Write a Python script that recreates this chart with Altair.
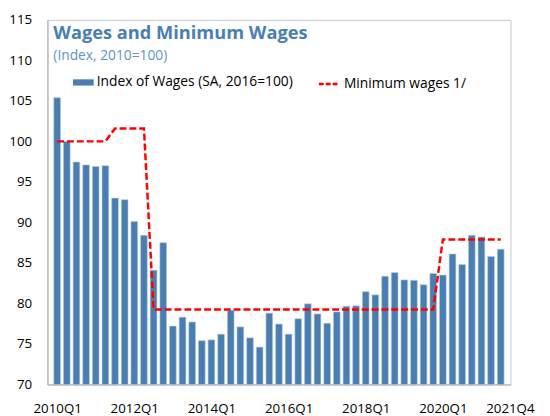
import altair as alt
import pandas as pd

quarters = [
    "2010Q1", "2010Q2", "2010Q3", "2010Q4", "2011Q1", "2011Q2", "2011Q3", "2011Q4",
    "2012Q1", "2012Q2", "2012Q3", "2012Q4", "2013Q1", "2013Q2", "2013Q3", "2013Q4",
    "2014Q1", "2014Q2", "2014Q3", "2014Q4", "2015Q1", "2015Q2", "2015Q3", "2015Q4",
    "2016Q1", "2016Q2", "2016Q3", "2016Q4", "2017Q1", "2017Q2", "2017Q3", "2017Q4",
    "2018Q1", "2018Q2", "2018Q3", "2018Q4", "2019Q1", "2019Q2", "2019Q3", "2019Q4",
    "2020Q1", "2020Q2", "2020Q3", "2020Q4", "2021Q1", "2021Q2", "2021Q3",
]
wages = [
    105.4, 100.0, 97.45, 97.1, 96.9, 97.0, 93.0, 92.8,
    90.1, 88.4, 84.1, 87.5, 77.2, 78.3, 77.7, 75.4,
    75.5, 76.2, 79.15, 77.1, 75.75, 74.6, 78.8, 77.45,
    76.2, 78.1, 79.95, 78.7, 77.55, 78.95, 79.65, 79.7,
    81.45, 81.05, 83.35, 83.8, 82.9, 82.85, 82.3, 83.7,
    83.5, 86.1, 84.8, 88.4, 88.2, 85.8, 86.7,
]
min_wage = [
    100.0, 100.0, 100.0, 100.0, 100.0, 100.0, 101.6, 101.6,
    101.6, 101.6, 79.25, 79.25, 79.25, 79.25, 79.25, 79.25,
    79.25, 79.25, 79.25, 79.25, 79.25, 79.25, 79.25, 79.25,
    79.25, 79.25, 79.25, 79.25, 79.25, 79.25, 79.25, 79.25,
    79.25, 79.25, 79.25, 79.25, 79.25, 79.25, 79.25, 79.25,
    87.9, 87.9, 87.9, 87.9, 87.9, 87.9, 87.9,
]
tick_labels = ["2010Q1", "2012Q1", "2014Q1", "2016Q1", "2018Q1", "2020Q1"]
end_label = "2021Q4"
y_ticks = [70, 75, 80, 85, 90, 95, 100, 105, 110, 115]

bar_name = "Index of Wages (SA, 2016=100)"
line_name = "Minimum wages 1/"

df = pd.DataFrame({
    "idx": list(range(len(quarters))),
    "quarter": quarters,
    "wages": wages,
    "minwage": min_wage,
    "bar_series": bar_name,
    "line_series": line_name,
})
tick_idx = [quarters.index(t) for t in tick_labels]
end_df = pd.DataFrame({"idx": [len(quarters)], "label": [end_label], "base": [70]})

FONT = "Open Sans"
BLUE = "#4a7eb1"
RED = "#ff0000"

label_expr = "[" + ",".join("'" + q + "'" for q in quarters) + "][datum.value]"

x_enc = alt.X(
    "idx:Q",
    scale=alt.Scale(domain=[-0.5, len(quarters) - 0.5], nice=False, zero=False),
    axis=alt.Axis(
        values=tick_idx, labelExpr=label_expr, title=None, ticks=False,
        grid=False, labelPadding=18, labelFontSize=13.5, labelColor="#000000",
        labelFont=FONT, domainColor="#bfbfbf", domainWidth=1.5, labelFlush=False,
    ),
)
y_scale = alt.Scale(domain=[70, 115], nice=False, zero=False)
y_axis = alt.Axis(
    values=y_ticks, title=None, ticks=False, grid=False, labelPadding=16,
    labelFontSize=13.5, labelColor="#000000", labelFont=FONT,
    domainColor="#bfbfbf", domainWidth=1.5,
)

bars = alt.Chart(df).mark_bar(size=6.8, stroke="#b3cbe3", strokeWidth=0.6).encode(
    x=x_enc,
    y=alt.Y("wages:Q", scale=y_scale, axis=y_axis),
    y2=alt.datum(70),
    fill=alt.Fill(
        "bar_series:N",
        scale=alt.Scale(domain=[bar_name], range=[BLUE]),
        legend=alt.Legend(
            title=None, orient="none", legendX=26, legendY=53,
            symbolType="M-1,-0.3H1V0.3H-1Z", symbolSize=441,
            symbolStrokeWidth=0, labelFontSize=14, labelFont=FONT,
            labelColor="#000000", labelOffset=3, padding=0, labelLimit=0,
        ),
    ),
)

line = alt.Chart(df).mark_line(strokeWidth=2.5, strokeDash=[7, 3]).encode(
    x="idx:Q",
    y="minwage:Q",
    stroke=alt.Stroke(
        "line_series:N",
        scale=alt.Scale(domain=[line_name], range=[RED]),
        legend=alt.Legend(
            title=None, orient="none", legendX=274, legendY=53,
            symbolType="stroke", symbolSize=441, symbolStrokeWidth=2.5,
            symbolDash=[5, 2], labelFontSize=14, labelFont=FONT,
            labelColor="#000000", labelOffset=3, padding=0, labelLimit=0,
        ),
    ),
)

end_text = alt.Chart(end_df).mark_text(
    baseline="top", dy=18, fontSize=13.5, font=FONT, color="#000000"
).encode(
    x="idx:Q",
    y="base:Q",
    text="label:N",
)

chart = alt.layer(bars, line, end_text).properties(
    width=470,
    height=370,
    padding={"left": 40, "top": 9, "right": 32, "bottom": 29},
    autosize=alt.AutoSizeParams(type="none"),
    title=alt.TitleParams(
        text="Wages and Minimum Wages",
        subtitle="(Index, 2010=100)",
        anchor="start", frame="group", orient="top", offset=0,
        dx=6, dy=51,
        font=FONT, fontSize=18.5, fontWeight="bold", color="#4a7eb4",
        subtitleFont=FONT, subtitleFontSize=14, subtitleColor="#5f93c9",
        subtitlePadding=7,
    ),
).configure_view(stroke="#c8c8c8", strokeWidth=1)

chart.save("out.html", embed_options={"renderer": "svg", "actions": False})
